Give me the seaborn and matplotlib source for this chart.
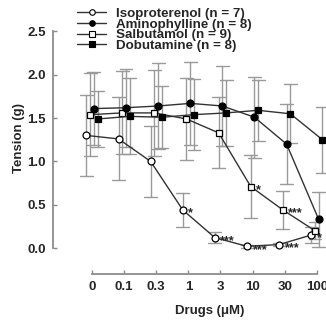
import numpy as np
import pandas as pd
import seaborn as sns
import matplotlib.pyplot as plt
from matplotlib.lines import Line2D

# concentrations (uM) on a categorical axis
doses = ['0', '0.1', '0.3', '1', '3', '10', '30', '100']

# mean tension (g) and SEM
iso_mean = [1.30, 1.26, 1.00, 0.44, 0.12, 0.02, 0.04, 0.15]
iso_se = [0.47, 0.48, 0.41, 0.20, 0.06, 0.02, 0.02, 0.09]
amino_mean = [1.61, 1.62, 1.64, 1.67, 1.64, 1.51, 1.20, 0.33]
amino_se = [0.42, 0.45, 0.50, 0.48, 0.46, 0.47, 0.46, 0.32]
salb_mean = [1.54, 1.56, 1.56, 1.49, 1.33, 0.71, 0.44, 0.20]
salb_se = [0.48, 0.48, 0.50, 0.47, 0.41, 0.36, 0.22, 0.10]
dobu_mean = [1.49, 1.52, 1.51, 1.54, 1.56, 1.59, 1.55, 1.25]
dobu_se = [0.32, 0.44, 0.36, 0.41, 0.38, 0.35, 0.34, 0.38]

# significance marks
iso_stars = ['', '', '', '*', '***', '***', '***', '*']
salb_stars = ['', '', '', '', '', '*', '***', '']

drugs = ['Isoproterenol', 'Salbutamol', 'Aminophylline', 'Dobutamine']
labels = {'Isoproterenol': 'Isoproterenol (n = 7)',
          'Aminophylline': 'Aminophylline (n = 8)',
          'Salbutamol': 'Salbutamol (n = 9)',
          'Dobutamine': 'Dobutamine (n = 8)'}
legend_order = ['Isoproterenol', 'Aminophylline', 'Salbutamol', 'Dobutamine']
open_marker = {'Isoproterenol': True, 'Salbutamol': True,
               'Aminophylline': False, 'Dobutamine': False}

means = {'Isoproterenol': iso_mean, 'Aminophylline': amino_mean,
         'Salbutamol': salb_mean, 'Dobutamine': dobu_mean}
ses = {'Isoproterenol': iso_se, 'Aminophylline': amino_se,
       'Salbutamol': salb_se, 'Dobutamine': dobu_se}

# two rows per point (mean - se, mean + se) so seaborn gets mean and the bar ends
rows = []
for d in drugs:
    for dose, m, s in zip(doses, means[d], ses[d]):
        rows.append({'drug': d, 'dose': dose, 'tension': m - s})
        rows.append({'drug': d, 'dose': dose, 'tension': m + s})
df = pd.DataFrame(rows)

sns.set_style('ticks')
plt.rcParams['font.family'] = ['Liberation Sans', 'DejaVu Sans']
plt.rcParams['font.weight'] = 'bold'
plt.rcParams['axes.labelweight'] = 'bold'

fig = plt.figure(figsize=(3.26, 3.23), dpi=100)
ax = fig.add_axes([0.233, 0.2053, 0.798, 0.724])

sns.pointplot(data=df, x='dose', y='tension', hue='drug', order=doses,
              hue_order=drugs, estimator='mean',
              errorbar=lambda v: (v.min(), v.max()),
              dodge=0.35, markers=['o', 's', 'o', 's'], linestyles='-',
              palette=['#333333'] * 4, markersize=5, linewidth=1,
              capsize=0.4, err_kws={'color': '#9a9a9a', 'linewidth': 1},
              legend=False, ax=ax)

# marker faces: open for isoproterenol / salbutamol
main_lines = [l for l in ax.lines if l.get_marker() in ('o', 's')]
handles = {}
for d, line in zip(drugs, main_lines):
    line.set_markeredgecolor('black')
    line.set_markeredgewidth(0.9)
    line.set_markerfacecolor('white' if open_marker[d] else 'black')
    line.set_zorder(3)
    handles[d] = Line2D([], [], color='#333333', linewidth=1,
                        marker=line.get_marker(), markersize=4,
                        markerfacecolor=line.get_markerfacecolor(),
                        markeredgecolor='black', markeredgewidth=0.8)

for d, stars in [('Isoproterenol', iso_stars), ('Salbutamol', salb_stars)]:
    line = main_lines[drugs.index(d)]
    for xp, yp, s in zip(line.get_xdata(), line.get_ydata(), stars):
        if s:
            ax.annotate(s, (xp, yp), xytext=(4, -2.5), textcoords='offset points',
                        fontsize=9, fontweight='bold', ha='left', va='center')

ax.set_xlim(-0.5, 7.6)
ax.set_ylim(-0.1, 2.6)
ax.set_yticks(np.arange(0, 2.51, 0.5))
ax.set_yticklabels([f'{v:.1f}' for v in np.arange(0, 2.51, 0.5)])
ax.set_xticks(range(len(doses)))
ax.set_xticklabels(doses)

sns.despine(ax=ax, offset={'left': 16.6, 'bottom': 12.5}, trim=True)
for side in ['left', 'bottom']:
    ax.spines[side].set_color('#8c8c8c')
    ax.spines[side].set_linewidth(1.3)
ax.tick_params(direction='in', length=3, width=1, color='#8c8c8c',
               labelsize=9.5, pad=5)

ax.set_xlabel('Drugs (\u03bcM)', fontsize=9.5)
ax.set_ylabel('Tension (g)', fontsize=9.5)
ax.xaxis.set_label_coords((210 - 76) / 260, -0.207)
ax.yaxis.set_label_coords(-0.196, 0.507)

fig.legend([handles[d] for d in legend_order], [labels[d] for d in legend_order],
           loc='upper left', bbox_to_anchor=(77 / 326, 1 - 7.5 / 323),
           frameon=False, fontsize=9.6, handlelength=2.2, handletextpad=0.75,
           labelspacing=-0.12, borderpad=0, borderaxespad=0)

fig.savefig('out.png', dpi=100)
